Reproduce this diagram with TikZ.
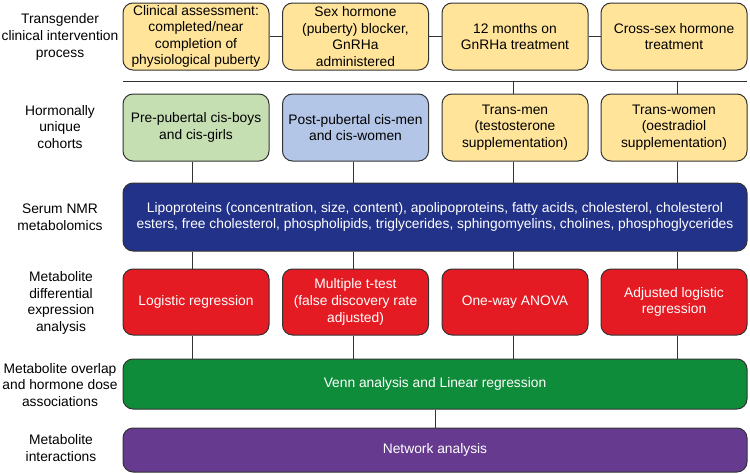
\documentclass[tikz,border=0pt]{standalone}
\usepackage{fontspec}
\setmainfont{Liberation Sans}
\definecolor{cyellow}{HTML}{FFE49A}
\definecolor{cgreenl}{HTML}{C5DFB3}
\definecolor{cbluel}{HTML}{B4C6E7}
\definecolor{cblued}{HTML}{233289}
\definecolor{cred}{HTML}{E41B22}
\definecolor{cgreen}{HTML}{0F8C3A}
\definecolor{cpurple}{HTML}{663A8F}
\definecolor{cline}{HTML}{333333}
\begin{document}
\begin{tikzpicture}[x=1pt,y=-1pt,
  box/.style={draw=cline, line width=1pt, rounded corners=10pt, align=center, inner sep=0pt,
    font=\fontsize{13.8}{16.6}\selectfont},
  colbox/.style={box, minimum width=146pt},
  widebox/.style={box, minimum width=624pt, text=white},
  lab/.style={align=center, font=\fontsize{13.8}{16.6}\selectfont},
  conn/.style={draw=cline, line width=1pt}]
\useasboundingbox (0,0) rectangle (750,474);
% left labels
\node[lab] (l1) at (60,37) {Transgender\\clinical intervention\\process};
\node[lab] (l2) at (60,127) {Hormonally\\unique\\cohorts};
\node[lab] (l3) at (60,217) {Serum NMR\\metabolomics};
\node[lab] (l4) at (61,303) {Metabolite\\differential\\expression\\analysis};
\node[lab] (l5) at (60,385) {Metabolite overlap\\and hormone dose\\associations};
\node[lab] (l6) at (61,448) {Metabolite\\interactions};
% row 1
\node[colbox, fill=cyellow, minimum height=67pt] (a1) at (196,36.5) {Clinical assessment:\\completed/near\\completion of\\physiological puberty};
\node[colbox, fill=cyellow, minimum height=67pt] (a2) at (355.5,36.5) {Sex hormone\\(puberty) blocker,\\GnRHa\\administered};
\node[colbox, fill=cyellow, minimum height=67pt] (a3) at (515,36.5) {12 months on\\GnRHa treatment};
\node[colbox, fill=cyellow, minimum height=67pt] (a4) at (674,36.5) {Cross-sex hormone\\treatment};
\draw[conn] (a1) -- (a2);
\draw[conn] (a2) -- (a3);
\draw[conn] (a3) -- (a4);
% separator
\coordinate (s1) at (123,81);
\coordinate (s2) at (747,81);
\draw[conn] (s1) -- (s2);
% row 2
\node[colbox, fill=cgreenl, minimum height=67pt] (b1) at (196,127.5) {Pre-pubertal cis-boys\\and cis-girls};
\node[colbox, fill=cbluel, minimum height=67pt] (b2) at (355.5,127.5) {Post-pubertal cis-men\\and cis-women};
\node[colbox, fill=cyellow, minimum height=67pt] (b3) at (515,127.5) {Trans-men\\(testosterone\\supplementation)};
\node[colbox, fill=cyellow, minimum height=67pt] (b4) at (674,127.5) {Trans-women\\(oestradiol\\supplementation)};
\draw[conn] ([xshift=-2pt]b3.north |- s1) -- ([xshift=-2pt]b3.north);
\draw[conn] ([xshift=3pt]b4.north |- s1) -- ([xshift=3pt]b4.north);
% row 3
\node[widebox, fill=cblued, minimum height=68pt] (c) at (435,217) {Lipoproteins (concentration, size, content), apolipoproteins, fatty acids, cholesterol, cholesterol\\esters, free cholesterol, phospholipids, triglycerides, sphingomyelins, cholines, phosphoglycerides};
\draw[conn] ([xshift=-4pt]b1.south) -- ([xshift=-4pt]b1.south |- c.north);
\draw[conn] ([xshift=-2pt]b2.south) -- ([xshift=-2pt]b2.south |- c.north);
\draw[conn] ([xshift=-2pt]b3.south) -- ([xshift=-2pt]b3.south |- c.north);
\draw[conn] ([xshift=3pt]b4.south) -- ([xshift=3pt]b4.south |- c.north);
% row 4
\node[colbox, fill=cred, text=white, minimum height=66pt] (d1) at (196,302) {Logistic regression};
\node[colbox, fill=cred, text=white, minimum height=66pt] (d2) at (355.5,302) {Multiple t-test\\(false discovery rate\\adjusted)};
\node[colbox, fill=cred, text=white, minimum height=66pt] (d3) at (515,302) {One-way ANOVA};
\node[colbox, fill=cred, text=white, minimum height=66pt] (d4) at (674,302) {Adjusted logistic\\regression};
\draw[conn] ([xshift=-4pt]d1.north |- c.south) -- ([xshift=-4pt]d1.north);
\draw[conn] ([xshift=-2pt]d2.north |- c.south) -- ([xshift=-2pt]d2.north);
\draw[conn] ([xshift=-2pt]d3.north |- c.south) -- ([xshift=-2pt]d3.north);
\draw[conn] ([xshift=3pt]d4.north |- c.south) -- ([xshift=3pt]d4.north);
% row 5
\node[widebox, fill=cgreen, minimum height=50pt] (e) at (435,384) {Venn analysis and Linear regression};
\draw[conn] ([xshift=-4pt]d1.south) -- ([xshift=-4pt]d1.south |- e.north);
\draw[conn] ([xshift=-2pt]d2.south) -- ([xshift=-2pt]d2.south |- e.north);
\draw[conn] ([xshift=-2pt]d3.south) -- ([xshift=-2pt]d3.south |- e.north);
\draw[conn] ([xshift=3pt]d4.south) -- ([xshift=3pt]d4.south |- e.north);
% row 6
\node[widebox, fill=cpurple, minimum height=44pt] (f) at (435,450) {Network analysis};
\draw[conn] (e.south) -- (f.north);
\end{tikzpicture}
\end{document}
